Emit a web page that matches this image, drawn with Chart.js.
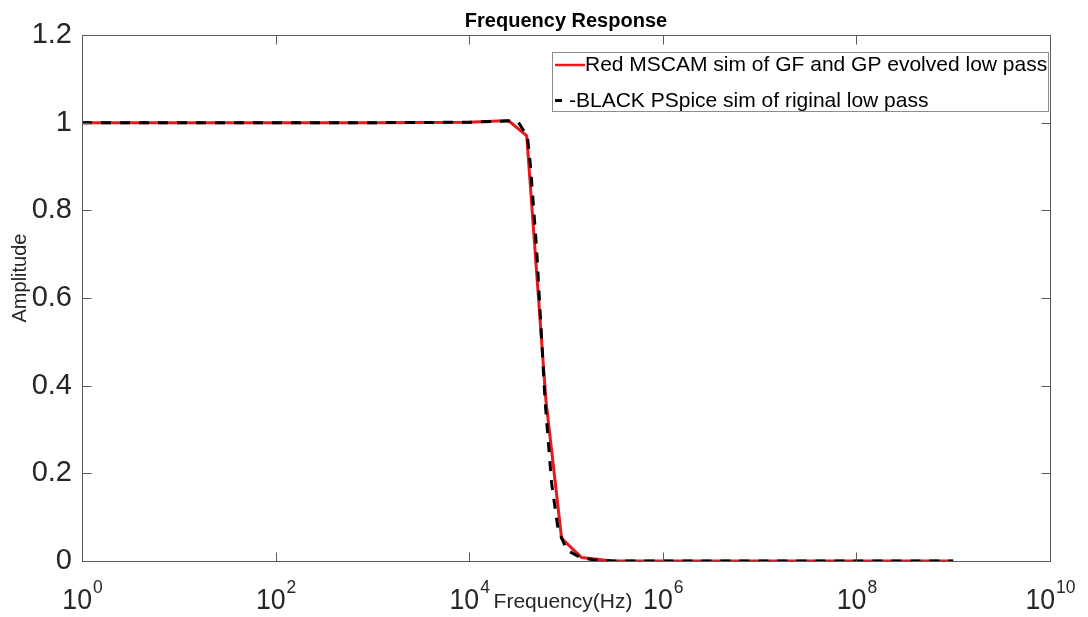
<!DOCTYPE html>
<html>
<head>
<meta charset="utf-8">
<title>Frequency Response</title>
<script src="https://cdn.jsdelivr.net/npm/chart.js@4.4.0/dist/chart.umd.min.js"></script>
<style>
	html, body { margin: 0; padding: 0; background: #fff; }
	#wrap { width: 1088px; height: 617px; }
</style>
</head>
<body>
<div id="wrap"><canvas id="freqChart" width="1088" height="617"></canvas></div>
<script>
// values (frequency in Hz, amplitude)
const redFreq = [1, 10, 100, 1e3, 1e4, 2.54e4, 3.93e4, 6.2e4, 9.0e4, 1.45e5, 3e5, 1e6, 1e7, 1e8, 1e9];
const redAmp = [1, 1, 1, 1, 1.001, 1.005, 0.97, 0.367, 0.052, 0.008, 0, 0, 0, 0, 0];

const blackFreq = [1, 10, 100, 1e3, 1e4, 2.5e4, 3.2e4, 4.0e4, 4.3e4, 4.98e4, 6.07e4, 7.1e4, 8.3e4, 1.02e5, 1.4e5, 1.9e5, 3e5, 1e6, 1e7, 1e8, 1e9];
const blackAmp = [1, 1, 1, 1, 1.001, 1.004, 1.002, 0.968, 0.9, 0.71, 0.367, 0.178, 0.071, 0.025, 0.008, 0.003, 0, 0, 0, 0, 0];

// tick labels
const xTickExp = [0, 2, 4, 6, 8, 10];
const yTickVals = [0, 0.2, 0.4, 0.6, 0.8, 1, 1.2];

const redLabel = "Red MSCAM sim of GF and GP evolved low pass";
const blackLabel = "-BLACK PSpice sim of riginal low pass";
const titleText = "Frequency Response";
const xTitle = "Frequency(Hz)";
const yTitle = "Amplitude";

const FONT = "'Liberation Sans', Arial, sans-serif";
const TEXT = "#262626";

// draws the matlab style box, inward ticks, superscript labels, titles and legend
const matlabAxes = {
	id: "matlabAxes",
	afterDraw(chart) {
		const ctx = chart.ctx;
		const area = chart.chartArea;
		const xs = chart.scales.x;
		const ys = chart.scales.y;
		const L = Math.round(area.left) + 0.5;
		const R = Math.round(area.right) + 0.5;
		const T = Math.round(area.top) + 0.5;
		const B = Math.round(area.bottom) + 0.5;
		ctx.save();

		// box
		ctx.strokeStyle = "#5a5a5a";
		ctx.lineWidth = 1;
		ctx.strokeRect(L, T, R - L, B - T);

		// inward tick marks
		ctx.beginPath();
		xTickExp.forEach((e) => {
			const px = Math.round(xs.getPixelForValue(Math.pow(10, e))) + 0.5;
			ctx.moveTo(px, B); ctx.lineTo(px, B - 9);
			ctx.moveTo(px, T); ctx.lineTo(px, T + 9);
		});
		yTickVals.forEach((v) => {
			const py = Math.round(ys.getPixelForValue(v)) + 0.5;
			ctx.moveTo(L, py); ctx.lineTo(L + 9, py);
			ctx.moveTo(R, py); ctx.lineTo(R - 9, py);
		});
		ctx.stroke();

		// x tick labels 10^n
		ctx.fillStyle = TEXT;
		ctx.textBaseline = "alphabetic";
		ctx.textAlign = "left";
		xTickExp.forEach((e) => {
			const px = xs.getPixelForValue(Math.pow(10, e));
			ctx.font = "29px " + FONT;
			const wb = ctx.measureText("10").width * 0.92;
			ctx.font = "19px " + FONT;
			const we = ctx.measureText(String(e)).width * 0.92;
			const x0 = px - (wb + we) / 2;
			ctx.save();
			ctx.translate(x0, 609);
			ctx.scale(0.92, 1);
			ctx.font = "29px " + FONT;
			ctx.fillText("10", 0, 0);
			ctx.restore();
			ctx.save();
			ctx.translate(x0 + wb + 1, 593);
			ctx.scale(0.92, 1);
			ctx.font = "19px " + FONT;
			ctx.fillText(String(e), 0, 0);
			ctx.restore();
		});

		// x axis title sits in the tick label row
		ctx.font = "21px " + FONT;
		ctx.textAlign = "center";
		ctx.fillText(xTitle, (area.left + area.right) / 2 - 3, 608);

		// y axis title
		ctx.save();
		ctx.translate(26, 278);
		ctx.rotate(-Math.PI / 2);
		ctx.font = "20px " + FONT;
		ctx.fillText(yTitle, 0, 0);
		ctx.restore();

		// title
		ctx.font = "bold 20px " + FONT;
		ctx.fillStyle = "#000";
		ctx.fillText(titleText, (area.left + area.right) / 2, 27);

		// legend box
		const lx = 552, ly = 52, lw = 496, lh = 59;
		ctx.fillStyle = "#fff";
		ctx.fillRect(lx, ly, lw, lh);
		ctx.strokeStyle = "#8c8c8c";
		ctx.strokeRect(lx + 0.5, ly + 0.5, lw, lh);

		const red = chart.data.datasets[0];
		const black = chart.data.datasets[1];
		ctx.lineCap = "butt";
		ctx.lineWidth = 2.5;
		ctx.strokeStyle = red.borderColor;
		ctx.beginPath();
		ctx.moveTo(555, 65); ctx.lineTo(585, 65);
		ctx.stroke();
		ctx.lineWidth = 3;
		ctx.strokeStyle = black.borderColor;
		ctx.beginPath();
		ctx.moveTo(555, 100.5); ctx.lineTo(562, 100.5);
		ctx.stroke();

		ctx.fillStyle = "#000";
		ctx.textAlign = "left";
		ctx.textBaseline = "middle";
		ctx.font = "21px " + FONT;
		ctx.fillText(red.label, 585, 65);
		ctx.fillText(black.label, 569, 101);

		ctx.restore();
	},
};

const ctx = document.getElementById("freqChart").getContext("2d");
new Chart(ctx, {
	type: "line",
	data: {
		datasets: [
			{
				label: redLabel,
				data: redFreq.map((f, i) => ({ x: f, y: redAmp[i] })),
				borderColor: "#e8191c",
				borderWidth: 3,
				pointRadius: 0,
				tension: 0,
				fill: false,
				order: 2,
			},
			{
				label: blackLabel,
				data: blackFreq.map((f, i) => ({ x: f, y: blackAmp[i] })),
				borderColor: "#000000",
				borderWidth: 3,
				borderDash: [10, 9],
				borderCapStyle: "butt",
				pointRadius: 0,
				tension: 0,
				fill: false,
				order: 1,
			},
		],
	},
	options: {
		responsive: false,
		animation: false,
		devicePixelRatio: 1,
		layout: { padding: { top: 35, right: 38, left: 0, bottom: 0 } },
		plugins: {
			legend: { display: false },
			title: { display: false },
			tooltip: { enabled: false },
		},
		scales: {
			x: {
				type: "logarithmic",
				min: 1,
				max: 1e10,
				grid: { display: false, drawTicks: false },
				border: { display: false },
				ticks: { display: false },
				afterBuildTicks: (scale) => {
					scale.ticks = xTickExp.map((e) => ({ value: Math.pow(10, e) }));
				},
				afterFit: (scale) => {
					scale.height = 56;
				},
			},
			y: {
				min: 0,
				max: 1.2,
				grid: { display: false, drawTicks: false },
				border: { display: false },
				afterBuildTicks: (scale) => {
					scale.ticks = yTickVals.map((v) => ({ value: v }));
				},
				ticks: {
					padding: 10,
					color: TEXT,
					font: { family: "'Liberation Sans', Arial, sans-serif", size: 29 },
					callback: (value) => String(Number(value.toFixed(1))),
				},
				afterFit: (scale) => {
					scale.width = 82;
				},
			},
		},
	},
	plugins: [matlabAxes],
});
</script>
</body>
</html>
